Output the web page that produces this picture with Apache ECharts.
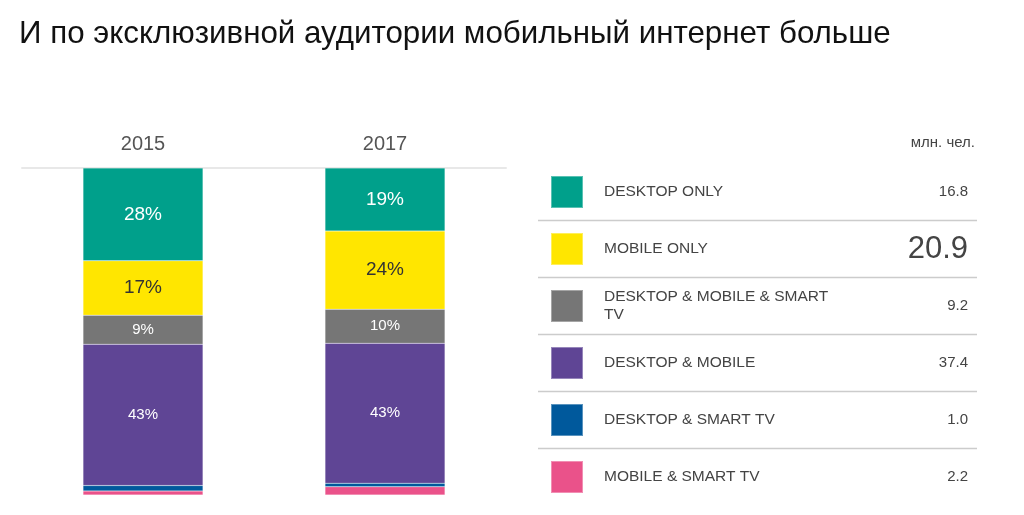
<!DOCTYPE html>
<html>
<head>
<meta charset="utf-8">
<script src="https://cdn.jsdelivr.net/npm/echarts@6/dist/echarts.min.js"></script>
<style>
  html, body { margin: 0; padding: 0; background: #fff; }
  #chart { width: 1024px; height: 515px; }
</style>
</head>
<body>
<div id="chart"></div>
<script>
// данные
var years = ['2015', '2017'];
var segments = ['DESKTOP ONLY', 'MOBILE ONLY', 'DESKTOP & MOBILE & SMART TV', 'DESKTOP & MOBILE', 'DESKTOP & SMART TV', 'MOBILE & SMART TV'];
var share2015 = [28.4, 16.6, 8.9, 43.2, 1.7, 1.2];
var share2017 = [19.3, 23.9, 10.4, 42.8, 1.1, 2.5];
var audience2017 = [16.8, 20.9, 9.2, 37.4, 1.0, 2.2];
var highlighted = 'MOBILE ONLY';
var colors = ['#00a08b', '#ffe600', '#767676', '#5f4595', '#00599c', '#ea528a'];
var labelColors = ['#ffffff', '#333333', '#ffffff', '#ffffff', '#ffffff', '#ffffff'];
var labelSizes = [19, 19, 15, 15, 15, 15];

var FONT = '"Liberation Sans", Arial, sans-serif';
var myChart = echarts.init(document.getElementById('chart'));

// таблица справа
var rowTop = 175, rowPitch = 57, rowH = 32;
var graphics = [];
graphics.push({
    type: 'text', x: 975, y: 143,
    style: { text: 'млн. чел.', font: '15px ' + FONT, fill: '#444', align: 'right', verticalAlign: 'middle' }
});
audience2017.forEach(function (v, i) {
    var big = segments[i] === highlighted;
    var cy = rowTop + 1 + i * rowPitch + rowH / 2;
    graphics.push({
        type: 'text', x: 968, y: cy,
        style: {
            text: v.toFixed(1), font: (big ? '31px ' : '15px ') + FONT, fill: '#444',
            align: 'right', verticalAlign: 'middle'
        }
    });
    if (i < audience2017.length - 1) {
        graphics.push({
            type: 'line', shape: { x1: 538, y1: cy + rowPitch / 2, x2: 977, y2: cy + rowPitch / 2 },
            style: { stroke: '#cccccc', lineWidth: 1.5 }
        });
    }
});

var option = {
    color: colors,
    textStyle: { fontFamily: FONT },
    title: {
        text: 'И по эксклюзивной аудитории мобильный интернет больше',
        left: 14, top: 14,
        textStyle: { fontSize: 31.3, fontWeight: 'normal', color: '#111', fontFamily: FONT }
    },
    legend: {
        orient: 'vertical',
        left: 550, top: rowTop,
        itemWidth: 32, itemHeight: 32, itemGap: rowPitch - rowH - 2,
        icon: 'rect',
        selectedMode: false,
        padding: 0,
        textStyle: { fontSize: 15.5, color: '#444', padding: [0, 0, 0, 16], fontFamily: FONT },
        data: segments.map(function (s) {
            if (s.length > 24) {
                return { name: s, textStyle: { lineHeight: 18, height: 32 } };
            }
            return { name: s };
        }),
        formatter: function (name) {
            return name.length > 24 ? name.replace(' TV', '\nTV') : name;
        }
    },
    graphic: graphics,
    grid: { left: 22, width: 484, top: 168, bottom: 20 },
    xAxis: {
        type: 'category',
        position: 'top',
        data: years,
        axisLine: { onZero: false, lineStyle: { color: '#e8e8e8', width: 2 } },
        axisTick: { show: false },
        axisLabel: { fontSize: 20, color: '#555', margin: 14, fontFamily: FONT }
    },
    yAxis: { type: 'value', min: 0, max: 100, inverse: true, show: false },
    series: segments.map(function (s, i) {
        return {
            name: s,
            type: 'bar',
            stack: 'all',
            barWidth: 120,
            data: [share2015[i], share2017[i]],
            itemStyle: { borderColor: 'rgba(255,255,255,0.35)', borderWidth: 0.5 },
            label: {
                show: i < 4,
                position: 'inside',
                color: labelColors[i],
                fontSize: labelSizes[i],
                fontFamily: FONT,
                formatter: function (p) { return Math.round(p.value) + '%'; }
            }
        };
    })
};

myChart.setOption(option);
</script>
</body>
</html>
